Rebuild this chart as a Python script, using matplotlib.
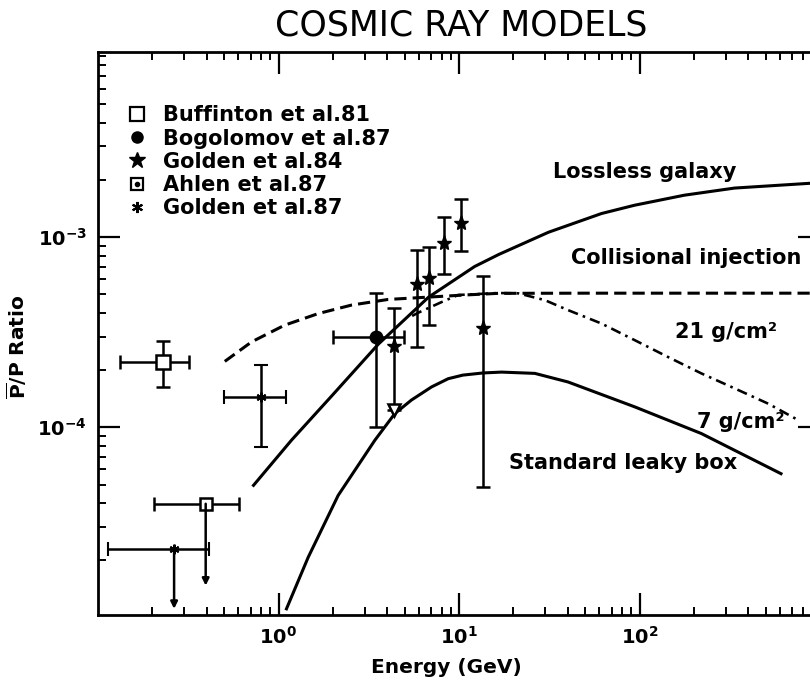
import numpy as np
import matplotlib
matplotlib.use("Agg")
import matplotlib.pyplot as plt
from matplotlib.lines import Line2D
from matplotlib.legend_handler import HandlerTuple

# ---------------- data ----------------
# Buffinton et al. 81
buff_E = [0.228]; buff_R = [2.21e-4]
buff_Elo = [0.133]; buff_Ehi = [0.321]
buff_Rlo = [1.62e-4]; buff_Rhi = [2.84e-4]

# Bogolomov et al. 87
bogo_E = [3.48]; bogo_R = [3.0e-4]
bogo_Elo = [2.0]; bogo_Ehi = [4.97]
bogo_Rlo = [1.0e-4]; bogo_Rhi = [5.06e-4]

# Golden et al. 84
g84_E = [4.39, 5.86, 6.80, 8.23, 10.26, 13.5]
g84_R = [2.68e-4, 5.64e-4, 6.06e-4, 9.33e-4, 1.19e-3, 3.33e-4]
g84_Rlo = [1.23e-4, 2.65e-4, 3.44e-4, 6.38e-4, 8.47e-4, 4.85e-5]
g84_Rhi = [4.25e-4, 8.55e-4, 8.83e-4, 1.27e-3, 1.58e-3, 6.24e-4]
# open triangle at bottom of first Golden 84 bar
tri_E = [4.39]; tri_R = [1.23e-4]

# Ahlen et al. 87 (upper limit)
ahlen_E = [0.395]; ahlen_R = [3.96e-5]
ahlen_Elo = [0.203]; ahlen_Ehi = [0.604]
ahlen_lim = [1.47e-5]

# Golden et al. 87
g87_E = [0.805]; g87_R = [1.44e-4]
g87_Elo = [0.501]; g87_Ehi = [1.097]
g87_Rlo = [7.87e-5]; g87_Rhi = [2.12e-4]
g87ul_E = [0.264]; g87ul_R = [2.30e-5]
g87ul_Elo = [0.1136]; g87ul_Ehi = [0.412]
g87ul_lim = [1.11e-5]

# model curves
lossless_E = [0.727, 1.18, 1.97, 3.58, 6.78, 12.2, 16.6, 31.3, 61.6, 93.8, 177, 336, 897, 1000]
lossless_R = [4.95e-5, 8.55e-5, 1.46e-4, 2.74e-4, 4.83e-4, 7.0e-4, 8.1e-4,
              1.06e-3, 1.33e-3, 1.47e-3, 1.66e-3, 1.81e-3, 1.92e-3, 1.94e-3]

collis_E = [0.504, 0.709, 1.08, 1.66, 2.54, 4.05, 10.8, 16.5, 50, 200, 1000]
collis_R = [2.22e-4, 2.81e-4, 3.44e-4, 3.96e-4, 4.39e-4, 4.70e-4, 4.96e-4,
            5.06e-4, 5.07e-4, 5.07e-4, 5.07e-4]

g21_E = [5.5, 6.04, 8.0, 9.9, 16.5, 21.3, 29.9, 40.2, 61.6, 94.1, 144, 220, 337, 517, 758]
g21_R = [3.85e-4, 4.03e-4, 4.55e-4, 4.96e-4, 5.08e-4, 5.06e-4, 4.66e-4, 4.13e-4,
         3.51e-4, 2.87e-4, 2.34e-4, 1.92e-4, 1.60e-4, 1.33e-4, 1.09e-4]

leaky_E = [1.107, 1.46, 2.14, 3.42, 4.41, 5.45, 7.05, 8.71, 10.5, 13.6, 17.2, 26.3,
           40.2, 94.1, 220, 608]
leaky_R = [1.11e-5, 2.07e-5, 4.38e-5, 8.55e-5, 1.18e-4, 1.39e-4, 1.63e-4, 1.80e-4,
           1.88e-4, 1.93e-4, 1.95e-4, 1.92e-4, 1.73e-4, 1.28e-4, 9.27e-5, 5.7e-5]

legend_labels = ["Buffinton et al.81", "Bogolomov et al.87", "Golden et al.84",
                 "Ahlen et al.87", "Golden et al.87"]

# ---------------- style ----------------
FONT = "DejaVu Sans"
plt.rcParams["font.family"] = [FONT]
plt.rcParams["font.weight"] = "bold"
plt.rcParams["axes.labelweight"] = "bold"
plt.rcParams["mathtext.fontset"] = "custom"
plt.rcParams["mathtext.rm"] = FONT + ":bold"
plt.rcParams["mathtext.it"] = FONT + ":bold"
plt.rcParams["mathtext.bf"] = FONT + ":bold"
plt.rcParams["axes.linewidth"] = 2.0

fig = plt.figure(figsize=(8.10, 6.82), dpi=100)
ax = fig.add_axes([98/810, 67/682, 722/810, 563/682])
ax.set_xscale("log"); ax.set_yscale("log")
ax.set_xlim(0.1, 1000)
ax.set_ylim(1.03e-5, 9.4e-3)

K = "black"
LW = 2.2
eb_kw = dict(ecolor=K, elinewidth=1.8, capsize=5, capthick=1.8, linestyle="none")

def err(v, lo, hi):
    v = np.asarray(v); return [v - np.asarray(lo), np.asarray(hi) - v]

# curves
ax.plot(lossless_E, lossless_R, color=K, lw=LW)
ax.plot(collis_E, collis_R, color=K, lw=LW, linestyle=(0, (4, 2)))
ax.plot(g21_E, g21_R, color=K, lw=LW * 0.85, linestyle=(0, (4, 2, 1, 2)))
ax.plot(leaky_E, leaky_R, color=K, lw=LW)

# data points
ax.errorbar(buff_E, buff_R, xerr=err(buff_E, buff_Elo, buff_Ehi),
            yerr=err(buff_R, buff_Rlo, buff_Rhi), marker="s", ms=10, mfc="white",
            mec=K, mew=1.8, **eb_kw)
ax.errorbar(bogo_E, bogo_R, xerr=err(bogo_E, bogo_Elo, bogo_Ehi),
            yerr=err(bogo_R, bogo_Rlo, bogo_Rhi), marker="o", ms=9, mfc=K, mec=K, **eb_kw)
ax.errorbar(g84_E, g84_R, yerr=err(g84_R, g84_Rlo, g84_Rhi), marker="*", ms=11,
            mfc=K, mec=K, **eb_kw)
ax.plot(tri_E, tri_R, marker="v", ms=9, mfc="white", mec=K, mew=1.8, linestyle="none")
ax.errorbar(ahlen_E, ahlen_R, xerr=err(ahlen_E, ahlen_Elo, ahlen_Ehi), marker="s",
            ms=9, mfc="white", mec=K, mew=1.8, **eb_kw)
ax.plot(ahlen_E, ahlen_R, marker="o", ms=3, color=K, linestyle="none")
ax.errorbar(g87_E, g87_R, xerr=err(g87_E, g87_Elo, g87_Ehi),
            yerr=err(g87_R, g87_Rlo, g87_Rhi), marker=(6, 2, 0), ms=7, mec=K, mew=1.5, **eb_kw)
ax.errorbar(g87ul_E, g87ul_R, xerr=err(g87ul_E, g87ul_Elo, g87ul_Ehi),
            marker=(6, 2, 0), ms=7, mec=K, mew=1.5, **eb_kw)
for xs, ys, ls in [(ahlen_E, ahlen_R, ahlen_lim), (g87ul_E, g87ul_R, g87ul_lim)]:
    for xv, yv, lv in zip(xs, ys, ls):
        ax.annotate("", xy=(xv, lv), xytext=(xv, yv),
                    arrowprops=dict(arrowstyle="-|>", color=K, lw=1.8,
                                    mutation_scale=10, shrinkA=0, shrinkB=0))

# curve labels
TS = 15
ax.text(33.1, 2.2e-3, "Lossless galaxy", fontsize=TS, ha="left", va="center")
ax.text(41.6, 7.75e-4, "Collisional injection", fontsize=TS, ha="left", va="center")
ax.text(158, 3.16e-4, "21 g/cm²", fontsize=TS, ha="left", va="center")
ax.text(209, 1.06e-4, "7 g/cm²", fontsize=TS, ha="left", va="center")
ax.text(18.9, 6.47e-5, "Standard leaky box", fontsize=TS, ha="left", va="center")

# legend
h_buff = Line2D([], [], marker="s", ms=10, mfc="white", mec=K, mew=1.6, linestyle="none")
h_bogo = Line2D([], [], marker="o", ms=8, color=K, linestyle="none")
h_g84 = Line2D([], [], marker="*", ms=12, color=K, linestyle="none")
h_ahl1 = Line2D([], [], marker="s", ms=8, mfc="white", mec=K, mew=1.6, linestyle="none")
h_ahl2 = Line2D([], [], marker="o", ms=3, color=K, linestyle="none")
h_g87 = Line2D([], [], marker=(6, 2, 0), ms=8, mec=K, mew=1.5, linestyle="none")
leg = ax.legend([h_buff, h_bogo, h_g84, (h_ahl1, h_ahl2), h_g87], legend_labels,
                handler_map={tuple: HandlerTuple(ndivide=1, pad=0)},
                loc="upper left", bbox_to_anchor=(0.040, 0.905), frameon=False,
                fontsize=15, handlelength=0.95, handletextpad=0.8, labelspacing=0.15,
                borderpad=0, borderaxespad=0)

# ticks
ax.tick_params(which="both", direction="in", top=True, right=True, labelsize=14)
ax.tick_params(which="major", length=16, width=1.6, pad=8)
ax.tick_params(which="minor", length=6, width=1.4)
ax.set_xticks([1, 10, 100])
ax.set_yticks([1e-4, 1e-3])
ax.xaxis.set_minor_locator(matplotlib.ticker.LogLocator(base=10, subs=np.arange(2, 10)))
ax.yaxis.set_minor_locator(matplotlib.ticker.LogLocator(base=10, subs=np.arange(2, 10)))
ax.xaxis.set_minor_formatter(matplotlib.ticker.NullFormatter())
ax.yaxis.set_minor_formatter(matplotlib.ticker.NullFormatter())

ax.set_xlabel("Energy (GeV)", fontsize=14.5, fontweight="bold")
ax.xaxis.set_label_coords(0.483, -0.076)
ax.set_ylabel(r"$\overline{\mathdefault{P}}$/P Ratio", fontsize=14.5, fontweight="bold")
ax.yaxis.set_label_coords(-0.095, 0.476)

fig.text(0.569, 0.962, "COSMIC RAY MODELS", fontsize=25, fontweight="normal",
         ha="center", va="center")

fig.savefig("out.png", dpi=100)
